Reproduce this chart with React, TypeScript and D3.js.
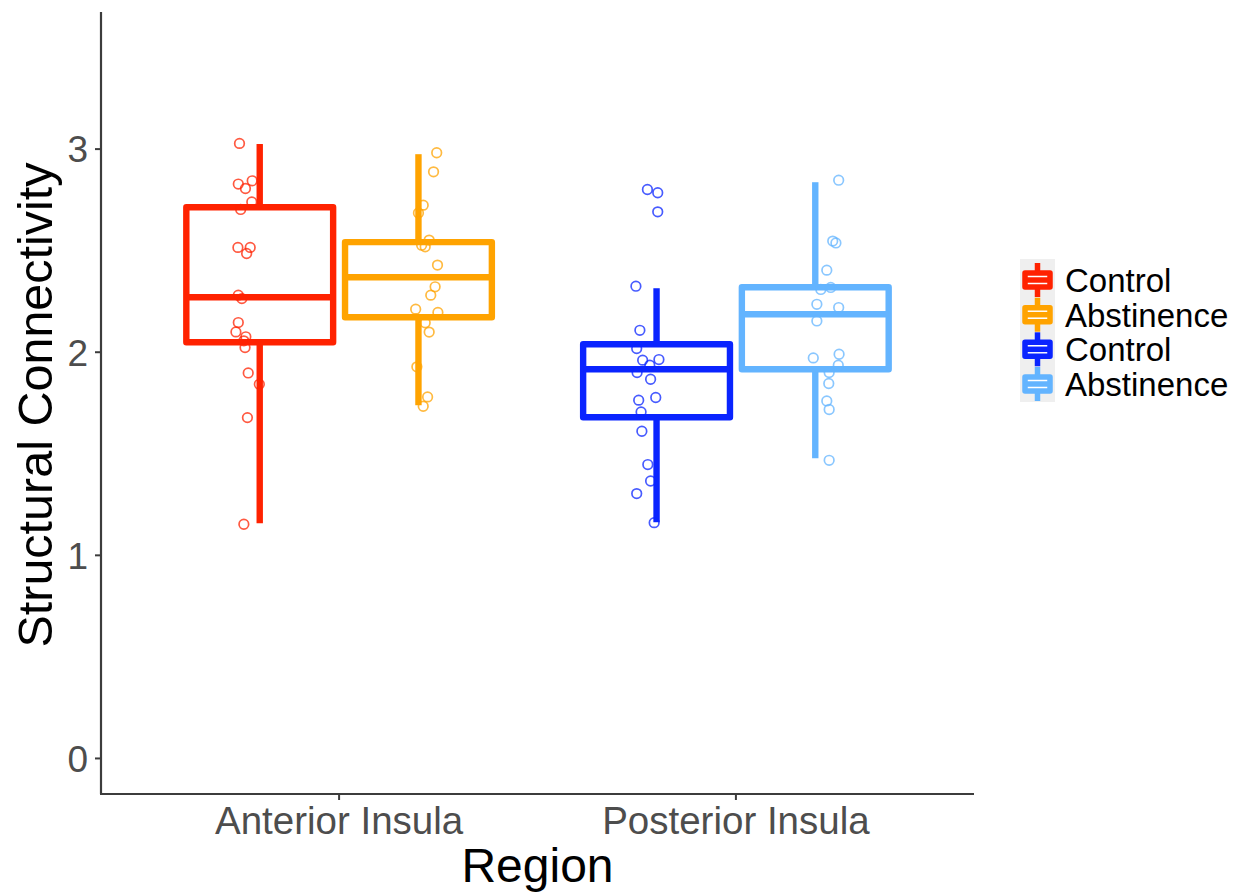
import React from "react";
import * as d3 from "d3";

// Regions along the x axis and the two groups within each region
const regions = ["Anterior Insula", "Posterior Insula"];
const groupLabels = ["Control", "Abstinence", "Control", "Abstinence"];
const groupRegion = [0, 0, 1, 1];
const groupSide = [-1, 1, -1, 1];
const groupColors = ["#FF2200", "#FFA300", "#0A24FF", "#63B4FF"];

// Box statistics per group: lower whisker, Q1, median, Q3, upper whisker
const whiskerLow = [1.158, 1.739, 1.163, 1.478];
const quart1 = [2.049, 2.172, 1.68, 1.916];
const medians = [2.271, 2.369, 1.916, 2.187];
const quart3 = [2.714, 2.542, 2.039, 2.32];
const whiskerHigh = [3.025, 2.975, 2.315, 2.837];

// Individual subjects: value and horizontal jitter (in category units)
const antControlVals = [3.028, 2.828, 2.844, 2.806, 2.74, 2.703, 2.516, 2.516, 2.486, 2.281, 2.264, 2.146, 2.1, 2.076, 2.056, 2.023, 1.898, 1.842, 1.678, 1.153];
const antControlJit = [-0.051, -0.054, -0.019, -0.036, -0.02, -0.048, -0.055, -0.024, -0.033, -0.054, -0.045, -0.054, -0.06, -0.035, -0.04, -0.037, -0.029, -0.001, -0.031, -0.04];
const antAbstVals = [2.982, 2.888, 2.724, 2.686, 2.552, 2.519, 2.527, 2.429, 2.322, 2.281, 2.212, 2.196, 2.145, 2.099, 1.928, 1.78, 1.734];
const antAbstJit = [0.046, 0.038, 0.012, 0.0, 0.027, 0.017, 0.008, 0.048, 0.042, 0.031, -0.007, 0.049, 0.017, 0.027, -0.004, 0.023, 0.012];
const postControlVals = [2.801, 2.785, 2.691, 2.325, 2.108, 2.018, 1.961, 1.964, 1.936, 1.9, 1.867, 1.777, 1.764, 1.706, 1.611, 1.447, 1.366, 1.304, 1.161];
const postControlJit = [-0.023, 0.003, 0.003, -0.052, -0.042, -0.05, -0.035, 0.006, -0.017, -0.049, -0.015, -0.002, -0.045, -0.039, -0.037, -0.022, -0.015, -0.05, -0.006];
const postAbstVals = [2.847, 2.547, 2.538, 2.404, 2.309, 2.319, 2.236, 2.22, 2.154, 1.972, 1.99, 1.936, 1.9, 1.846, 1.76, 1.718, 1.468];
const postAbstJit = [0.059, 0.044, 0.052, 0.029, 0.014, 0.039, 0.004, 0.059, 0.004, -0.005, 0.06, 0.058, 0.035, 0.034, 0.029, 0.035, 0.035];

const groupVals = [antControlVals, antAbstVals, postControlVals, postAbstVals];
const groupJit = [antControlJit, antAbstJit, postControlJit, postAbstJit];

const yTicks = [0, 1, 2, 3];

const W = 1240;
const H = 894;
const left = 101;
const right = 974;
const top = 12;
const bottom = 794;

const dodge = 0.2;
const boxWidth = 0.37;

export default function App() {
  const x = d3.scaleLinear().domain([0.4, 2.6]).range([left, right]);
  const y = d3.scaleLinear().domain([-0.175, 3.675]).range([bottom, top]);

  const centerOf = (g: number) => groupRegion[g] + 1 + groupSide[g] * dodge;

  const font = "Liberation Sans, Arial, Helvetica, sans-serif";

  const legendY = [280, 314.7, 349.3, 384];

  return (
    <svg
      width={W}
      height={H}
      style={{ position: "absolute", left: 0, top: 0, background: "#fff" }}
      fontFamily={font}
    >
      {/* boxes and whiskers */}
      {groupLabels.map((_, g) => {
        const cx = x(centerOf(g));
        const x0 = x(centerOf(g) - boxWidth / 2);
        const x1 = x(centerOf(g) + boxWidth / 2);
        const c = groupColors[g];
        return (
          <g key={"box" + g} stroke={c} strokeWidth={6.4} fill="none" strokeLinejoin="round">
            <line x1={cx} x2={cx} y1={y(whiskerHigh[g])} y2={y(quart3[g])} />
            <line x1={cx} x2={cx} y1={y(quart1[g])} y2={y(whiskerLow[g])} />
            <rect x={x0} y={y(quart3[g])} width={x1 - x0} height={y(quart1[g]) - y(quart3[g])} fill="#fff" />
            <line x1={x0} x2={x1} y1={y(medians[g])} y2={y(medians[g])} />
          </g>
        );
      })}

      {/* individual subjects */}
      {groupVals.map((vals, g) => (
        <g key={"pts" + g} stroke={groupColors[g]} strokeOpacity={0.75} strokeWidth={1.7} fill="none">
          {vals.map((v, i) => (
            <circle key={i} cx={x(centerOf(g) + groupJit[g][i])} cy={y(v)} r={4.8} />
          ))}
        </g>
      ))}

      {/* y axis */}
      <line x1={left} x2={left} y1={top} y2={bottom} stroke="#3c3c3c" strokeWidth={2.2} />
      {yTicks.map((t) => (
        <g key={"yt" + t}>
          <line x1={left - 6} x2={left} y1={y(t)} y2={y(t)} stroke="#3c3c3c" strokeWidth={2} />
          <text x={left - 13} y={y(t)} dy="0.36em" textAnchor="end" fontSize={37} fill="#4D4D4D">
            {t}
          </text>
        </g>
      ))}

      {/* x axis */}
      <line x1={left - 1} x2={right} y1={bottom} y2={bottom} stroke="#3c3c3c" strokeWidth={2.2} />
      {regions.map((r, i) => (
        <g key={"xt" + i}>
          <line x1={x(i + 1)} x2={x(i + 1)} y1={bottom} y2={bottom + 6} stroke="#3c3c3c" strokeWidth={2} />
          <text x={x(i + 1)} y={834} textAnchor="middle" fontSize={38.5} fill="#4D4D4D">
            {r}
          </text>
        </g>
      ))}

      {/* axis titles */}
      <text x={(left + right) / 2} y={882} textAnchor="middle" fontSize={48} fill="#000">
        Region
      </text>
      <text
        transform={`translate(52, ${(top + bottom) / 2 + 2}) rotate(-90)`}
        textAnchor="middle"
        fontSize={48.5}
        fill="#000"
      >
        Structural Connectivity
      </text>

      {/* legend */}
      <rect x={1020} y={259} width={35} height={143} fill="#EFEFEF" />
      {groupLabels.map((lab, g) => {
        const cy = legendY[g];
        const c = groupColors[g];
        return (
          <g key={"lg" + g}>
            <g stroke={c} strokeWidth={5.5} fill="none" strokeLinejoin="round">
              <line x1={1037.5} x2={1037.5} y1={cy - 17} y2={cy + 17} />
              <rect x={1025} y={cy - 7} width={25} height={14} fill="#fff" />
              <line x1={1025} x2={1050} y1={cy} y2={cy} />
            </g>
            <text x={1065} y={cy} dy="0.36em" fontSize={33} fill="#000">
              {lab}
            </text>
          </g>
        );
      })}
    </svg>
  );
}
